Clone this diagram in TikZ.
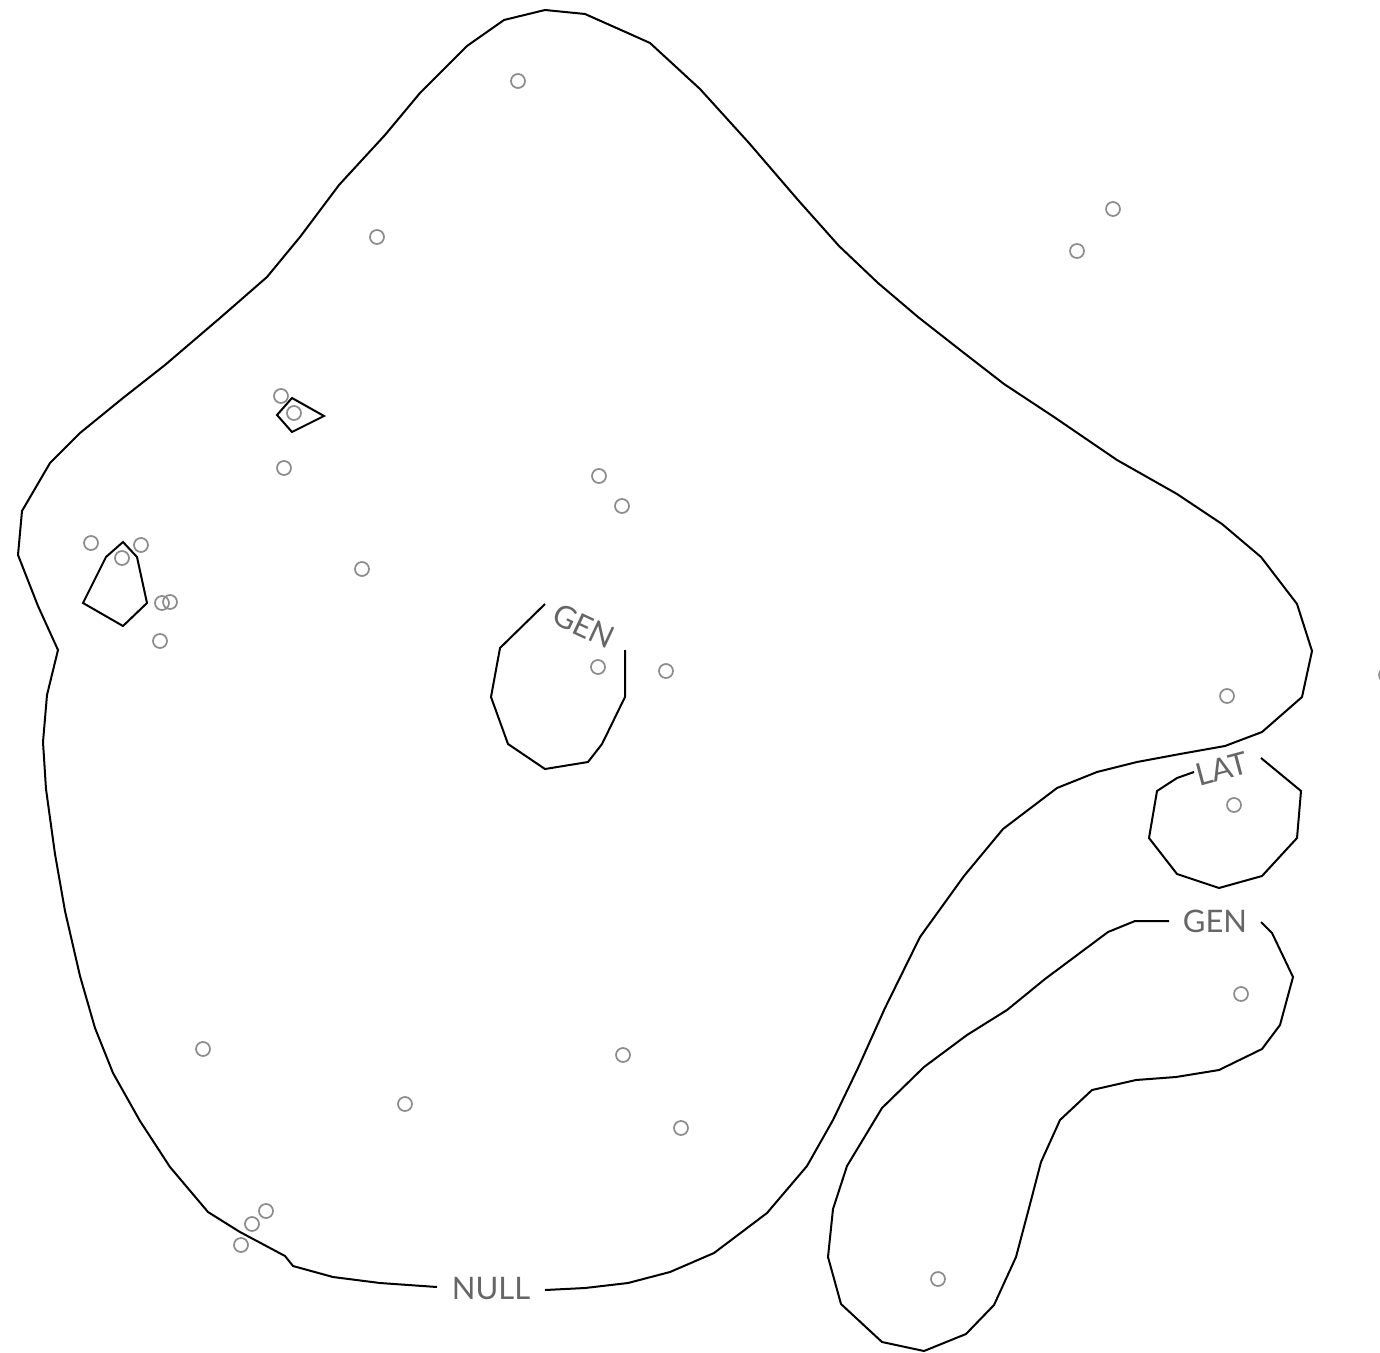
\documentclass[tikz,border=0pt]{standalone}
\usepackage{fontspec}
\setmainfont{Lato}
\begin{document}
\begin{tikzpicture}[x=0.5pt,y=-0.5pt,
  outline/.style={draw=black,line width=1pt,line join=miter},
  pt/.style={draw=black!45,line width=0.85pt},
  lbl/.style={text=black!60,font=\fontsize{15.5}{18}\selectfont,inner sep=0pt}]
\useasboundingbox (0,0) rectangle (1380,1353);
% main region (NULL)
\draw[outline] (545,1290) -- (585,1288) -- (628,1283) -- (670,1272) -- (714,1253) -- (767,1213) -- (807,1166) -- (833,1120) -- (858,1068) -- (885,1008) -- (920,937) -- (964,876) -- (1003,829) -- (1057,788) -- (1097,772) -- (1137,762) -- (1180,754) -- (1225,746) -- (1262,732) -- (1302,697) -- (1312,651) -- (1297,604) -- (1261,557) -- (1222,524) -- (1177,494) -- (1117,460) -- (1054,417) -- (1004,384) -- (964,353) -- (918,317) -- (878,283) -- (839,246) -- (798,200) -- (749,143) -- (700,89) -- (650,43) -- (630,34) -- (585,14) -- (545,10) -- (504,20) -- (467,46) -- (420,93) -- (385,135) -- (339,185) -- (300,237) -- (267,277) -- (220,318) -- (165,365) -- (123,398) -- (80,433) -- (50,463) -- (22,511) -- (18,555) -- (38,606) -- (58,650) -- (47,695) -- (43,742) -- (46,789) -- (55,854) -- (65,911) -- (80,976) -- (95,1028) -- (113,1073) -- (140,1121) -- (170,1167) -- (208,1212) -- (240,1232) -- (285,1256) -- (293,1266) -- (333,1277) -- (380,1283) -- (437,1287);
\node[lbl] (nullLbl) at (491,1289) {NULL};
% central GEN loop
\draw[outline] (545,604) -- (500,648) -- (491,697) -- (508,744) -- (545,769) -- (588,762) -- (602,744) -- (625,697) -- (625,650);
\node[lbl,rotate=-25] (genA) at (584,626) {GEN};
% LAT loop
\draw[outline] (1194,772) -- (1177,778) -- (1157,791) -- (1149,838) -- (1177,874) -- (1219,888) -- (1262,876) -- (1297,838) -- (1301,791) -- (1261,758);
\node[lbl,rotate=15] (latLbl) at (1222,769) {LAT};
% right GEN loop
\draw[outline] (1169,921) -- (1135,921) -- (1108,932) -- (1045,979) -- (1007,1010) -- (967,1035) -- (924,1067) -- (882,1108) -- (847,1166) -- (833,1209) -- (828,1257) -- (841,1304) -- (882,1342) -- (924,1351) -- (966,1334) -- (994,1305) -- (1016,1257) -- (1029,1208) -- (1041,1162) -- (1060,1120) -- (1092,1090) -- (1136,1080) -- (1176,1077) -- (1219,1070) -- (1262,1049) -- (1280,1025) -- (1293,977) -- (1272,933) -- (1261,922);
\node[lbl] (genB) at (1215,921) {GEN};
% small polygons
\draw[outline] (123,542) -- (106,557) -- (83,603) -- (123,626) -- (147,603) -- (137,557) -- cycle;
\draw[outline] (292,398) -- (277,415) -- (292,432) -- (324,416) -- cycle;
% points
\foreach \p in {(518,81),(377,237),(1113,209),(1077,251),(281,396),(294,413),(284,468),(599,476),(622,506),(91,543),(141,545),(122,558),(162,603),(170,602),(160,641),(362,569),(598,667),(666,671),(1227,696),(1386,675),(1234,805),(1241,994),(203,1049),(623,1055),(405,1104),(681,1128),(266,1211),(252,1224),(241,1245),(938,1279)}
  \draw[pt] \p circle[radius=7];
\end{tikzpicture}
\end{document}
